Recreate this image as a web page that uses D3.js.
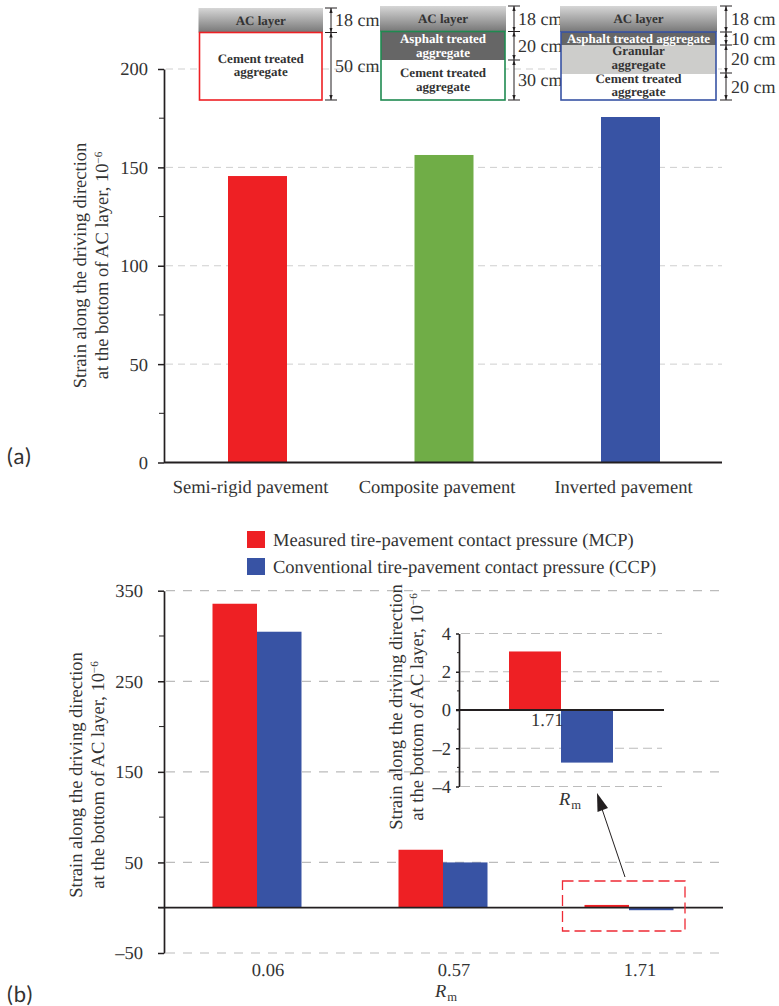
<!DOCTYPE html>
<html>
<head>
<meta charset="utf-8">
<script src="https://cdn.jsdelivr.net/npm/d3@7"></script>
<style>
  body { margin: 0; background: #fff; }
  svg text { text-rendering: geometricPrecision; }
</style>
</head>
<body>
<svg id="chart"></svg>
<script>
// panel (a)
const pavements = ["Semi-rigid pavement", "Composite pavement", "Inverted pavement"];
const pavementStrain = [145.6, 156.3, 175.6];
const pavementColors = ["#ee2024", "#70ad47", "#3853a4"];
const ticksA = [0, 50, 100, 150, 200];
const minorA = [25, 75, 125, 175];

// panel (b)
const ratios = ["0.06", "0.57", "1.71"];
const measured = [335.6, 64, 3.06];
const conventional = [304.7, 50, -2.75];
const ticksB = [-50, 50, 150, 250, 350];
const minorB = [0, 100, 200, 300];
const legendLabels = [
  "Measured tire-pavement contact pressure (MCP)",
  "Conventional tire-pavement contact pressure (CCP)"
];

// inset
const insetTicks = [-4, -2, 0, 2, 4];
const insetMinor = [-3, -1, 1, 3];

// structure sketches above panel (a)
const sketchLayers = [
  [["Cement treated", "aggregate"]],
  [["Asphalt treated", "aggregate"], ["Cement treated", "aggregate"]],
  [["Asphalt treated aggregate"], ["Granular", "aggregate"], ["Cement treated", "aggregate"]]
];
const sketchDepths = [
  ["18 cm", "50 cm"],
  ["18 cm", "20 cm", "30 cm"],
  ["18 cm", "10 cm", "20 cm", "20 cm"]
];

const width = 779;
const height = 1006;
const red = "#ee2024";
const blue = "#3853a4";
const dark = "#231f20";
const textColor = "#333";
const serif = '"Liberation Serif", serif';
const fs = 18.5;

const svg = d3.select("#chart").attr("width", width).attr("height", height)
  .attr("font-family", serif).attr("fill", textColor);

const defs = svg.append("defs");
const grad = defs.append("linearGradient")
  .attr("id", "acGrad").attr("x1", 0).attr("y1", 0).attr("x2", 0).attr("y2", 1);
grad.append("stop").attr("offset", "0%").attr("stop-color", "#d6d6d6");
grad.append("stop").attr("offset", "100%").attr("stop-color", "#777");
defs.append("marker").attr("id", "dimTip")
  .attr("viewBox", "0 0 6 6").attr("refX", 6).attr("refY", 3)
  .attr("markerWidth", 5).attr("markerHeight", 5).attr("orient", "auto-start-reverse")
  .append("path").attr("d", "M0,1L6,3L0,5Z").attr("fill", dark);

const dashFmt = (d) => String(d).replace("-", "\u2013");

function grid(y, x0, x1, values, color, dash, w) {
  svg.append("g").selectAll("line").data(values).enter().append("line")
    .attr("x1", x0 + 2).attr("x2", x1)
    .attr("y1", (d) => y(d)).attr("y2", (d) => y(d))
    .attr("stroke", color).attr("stroke-width", w).attr("stroke-dasharray", dash);
}

function leftAxis(y, x0, major, minor, tickLen, padding, minorLen) {
  const g = svg.append("g")
    .attr("transform", `translate(${x0},0)`)
    .call(d3.axisLeft(y).tickValues(major).tickSize(tickLen).tickPadding(padding).tickSizeOuter(0).tickFormat(dashFmt));
  g.attr("font-family", serif).attr("font-size", fs);
  g.selectAll("text").attr("fill", textColor);
  g.selectAll("line").attr("stroke", dark).attr("stroke-width", 1.5);
  g.select("path").attr("stroke", dark).attr("stroke-width", 1.7);
  g.append("g").selectAll("line").data(minor).enter().append("line")
    .attr("x1", -minorLen).attr("x2", 0)
    .attr("y1", (d) => y(d)).attr("y2", (d) => y(d))
    .attr("stroke", dark).attr("stroke-width", 1);
}

function yTitle(x1, x2, cy, line1, line2) {
  svg.append("text")
    .attr("transform", `translate(${x1},${cy}) rotate(-90)`)
    .attr("text-anchor", "middle").attr("font-size", fs).text(line1);
  const t = svg.append("text")
    .attr("transform", `translate(${x2},${cy}) rotate(-90)`)
    .attr("text-anchor", "middle").attr("font-size", fs);
  t.append("tspan").text(line2);
  t.append("tspan").attr("dy", -6).attr("font-size", fs * 0.6).text("\u22126");
}

function rmLabel(x, y) {
  const t = svg.append("text").attr("x", x).attr("y", y).attr("font-size", fs);
  t.append("tspan").attr("font-style", "italic").text("R");
  t.append("tspan").attr("dy", 4).attr("dx", 1).attr("font-size", fs * 0.68).text("m");
}

function baseline(x0, x1, y) {
  svg.append("line").attr("x1", x0).attr("x2", x1).attr("y1", y).attr("y2", y)
    .attr("stroke", dark).attr("stroke-width", 1.8);
}

function panelTag(s, y) {
  svg.append("text").attr("x", 7).attr("y", y).attr("font-size", 22)
    .attr("font-family", "Lato, sans-serif").attr("letter-spacing", 1).text(s);
}

// ---- panel (a)
const yA = d3.scaleLinear().domain([0, 200]).range([462.5, 69]);
const xA = d3.scalePoint().domain(pavements).range([257.5, 630.5]);
grid(yA, 164, 722, ticksA.slice(1), "#cfcfcf", "7 5", 1);

svg.append("g").selectAll("rect").data(pavements).enter().append("rect")
  .attr("x", (d) => xA(d) - 29.5)
  .attr("width", 59)
  .attr("y", (d, i) => yA(pavementStrain[i]))
  .attr("height", (d, i) => yA(0) - yA(pavementStrain[i]))
  .attr("fill", (d, i) => pavementColors[i]);

leftAxis(yA, 164, ticksA, minorA, 6, 10, 5);
baseline(164, 722, yA(0));

svg.append("g").selectAll("text").data(pavements).enter().append("text")
  .attr("x", (d) => xA(d) - 7).attr("y", 493)
  .attr("text-anchor", "middle").attr("font-size", fs).text((d) => d);

yTitle(86, 108, 265.5, "Strain along the driving direction", "at the bottom of AC layer, 10");
panelTag("(a)", 464);

// ---- structure sketches
const sketchBoxes = [
  { x: 199.5, w: 122.5, acTop: 8, top: 32.5, bottom: 100, stroke: pavementColors[0], fills: ["#fff"], bands: [[32.5, 100]], ticks: [8, 32.5, 100], dimX: 331, labelX: 335 },
  { x: 381, w: 124, acTop: 6, top: 31.5, bottom: 100, stroke: "#1f8a50", fills: ["#666", "#fff"], bands: [[31.5, 60], [60, 100]], ticks: [6, 31.5, 60, 100], dimX: 514, labelX: 518 },
  { x: 561, w: 155, acTop: 6, top: 32, bottom: 100, stroke: blue, fills: ["#666", "#cdcdcb", "#fff"], bands: [[32, 45], [45, 74], [74, 100]], ticks: [6, 32, 45, 73, 100], dimX: 726, labelX: 731 }
];

sketchBoxes.forEach((b, i) => {
  const g = svg.append("g");
  g.append("rect").attr("x", b.x - 1).attr("y", b.acTop).attr("width", b.w + 2).attr("height", b.top - b.acTop)
    .attr("fill", "url(#acGrad)");
  g.append("text").attr("x", b.x + b.w / 2).attr("y", b.acTop + 16.5)
    .attr("text-anchor", "middle").attr("font-size", 13).attr("font-weight", "bold").text("AC layer");

  g.selectAll(".band").data(b.bands).enter().append("rect")
    .attr("x", b.x).attr("width", b.w)
    .attr("y", (d) => d[0]).attr("height", (d) => d[1] - d[0])
    .attr("fill", (d, k) => b.fills[k]);
  g.append("rect").attr("x", b.x).attr("y", b.top).attr("width", b.w).attr("height", b.bottom - b.top)
    .attr("fill", "none").attr("stroke", b.stroke).attr("stroke-width", 1.6);

  sketchLayers[i].forEach((lines, k) => {
    const [y0, y1] = b.bands[k];
    const onDark = b.fills[k] === "#666";
    // text sits a little off the band centre in the source sketches
    let mid = (y0 + y1) / 2;
    if (i === 0) mid = y0 + 33;
    if (i === 2 && k > 0) mid -= 1.5;
    lines.forEach((s, n) => {
      g.append("text")
        .attr("x", b.x + b.w / 2)
        .attr("y", mid + 4 + (n - (lines.length - 1) / 2) * 13.5)
        .attr("text-anchor", "middle").attr("font-size", 13).attr("font-weight", "bold")
        .attr("fill", onDark ? "#fff" : textColor).text(s);
    });
  });

  // depth brackets
  d3.pairs(b.ticks).forEach(([y0, y1]) => {
    g.append("line").attr("x1", b.dimX).attr("x2", b.dimX).attr("y1", y0).attr("y2", y1)
      .attr("stroke", dark).attr("stroke-width", 1)
      .attr("marker-start", "url(#dimTip)").attr("marker-end", "url(#dimTip)");
  });
  g.selectAll(".tick").data(b.ticks).enter().append("line")
    .attr("x1", b.dimX - 6).attr("x2", b.dimX + 6)
    .attr("y1", (d) => d).attr("y2", (d) => d)
    .attr("stroke", dark).attr("stroke-width", 1);
  sketchDepths[i].forEach((s, k) => {
    g.append("text").attr("x", b.labelX).attr("y", (b.ticks[k] + b.ticks[k + 1]) / 2 + 6)
      .attr("font-size", 18).text(s);
  });
});

// ---- panel (b)
const yB = d3.scaleLinear().domain([-50, 350]).range([953, 590.7]);
const xB = d3.scalePoint().domain(ratios).range([257, 629]);
grid(yB, 164, 723, ticksB, "#bcbcbc", "9 8", 1.2);

const rowsB = ratios.map((r, i) => ({ r, mcp: measured[i], ccp: conventional[i] }));
const barsB = svg.append("g").selectAll("g").data(rowsB).enter().append("g")
  .attr("transform", (d) => `translate(${xB(d.r)},0)`);
barsB.append("rect")
  .attr("x", -44.5).attr("width", 44.5)
  .attr("y", (d) => yB(Math.max(d.mcp, 0)))
  .attr("height", (d) => Math.abs(yB(d.mcp) - yB(0)))
  .attr("fill", red);
barsB.append("rect")
  .attr("x", 0).attr("width", 44.5)
  .attr("y", (d) => yB(Math.max(d.ccp, 0)))
  .attr("height", (d) => Math.abs(yB(d.ccp) - yB(0)))
  .attr("fill", blue);

leftAxis(yB, 164, ticksB, minorB, 6, 15, 5);
baseline(158, 723, yB(0));

svg.append("g").selectAll("text").data(ratios).enter().append("text")
  .attr("x", (d) => xB(d) + 11).attr("y", 976)
  .attr("text-anchor", "middle").attr("font-size", fs).text((d) => d);
rmLabel(435, 997);

yTitle(82, 104, 775, "Strain along the driving direction", "at the bottom of AC layer, 10");
panelTag("(b)", 1002);

// legend
const legend = svg.append("g").selectAll("g").data(legendLabels).enter().append("g")
  .attr("transform", (d, i) => `translate(247,${531 + i * 27})`);
legend.append("rect").attr("width", 18).attr("height", 17)
  .attr("fill", (d, i) => (i === 0 ? red : blue));
legend.append("text").attr("x", 26).attr("y", 15).attr("font-size", fs).text((d) => d);

// zoom box and arrow
svg.append("rect").attr("x", 562.5).attr("y", 881).attr("width", 122.5).attr("height", 50)
  .attr("fill", "none").attr("stroke", "#ee2a35").attr("stroke-width", 1.3).attr("stroke-dasharray", "11 5");
svg.append("line").attr("x1", 625).attr("y1", 877).attr("x2", 601).attr("y2", 806)
  .attr("stroke", dark).attr("stroke-width", 1);
svg.append("path").attr("d", d3.line()([[597, 793], [608, 808], [597.5, 812]])).attr("fill", dark);

// ---- inset
const yI = d3.scaleLinear().domain([-4, 4]).range([786.5, 633.5]);
grid(yI, 459, 662, insetTicks, "#bcbcbc", "9 5", 1.2);

svg.append("rect").attr("x", 509).attr("width", 52)
  .attr("y", yI(measured[2])).attr("height", yI(0) - yI(measured[2])).attr("fill", red);
svg.append("rect").attr("x", 561).attr("width", 52)
  .attr("y", yI(0)).attr("height", yI(conventional[2]) - yI(0)).attr("fill", blue);

leftAxis(yI, 459, insetTicks, insetMinor, 3, 5, 2);
baseline(456, 664, yI(0));
svg.append("text").attr("x", 531).attr("y", 726).attr("font-size", fs).text("1.71");
rmLabel(559, 805);

yTitle(402, 423, 707, "Strain along the driving direction", "at the bottom of AC layer, 10");
</script>
</body>
</html>
